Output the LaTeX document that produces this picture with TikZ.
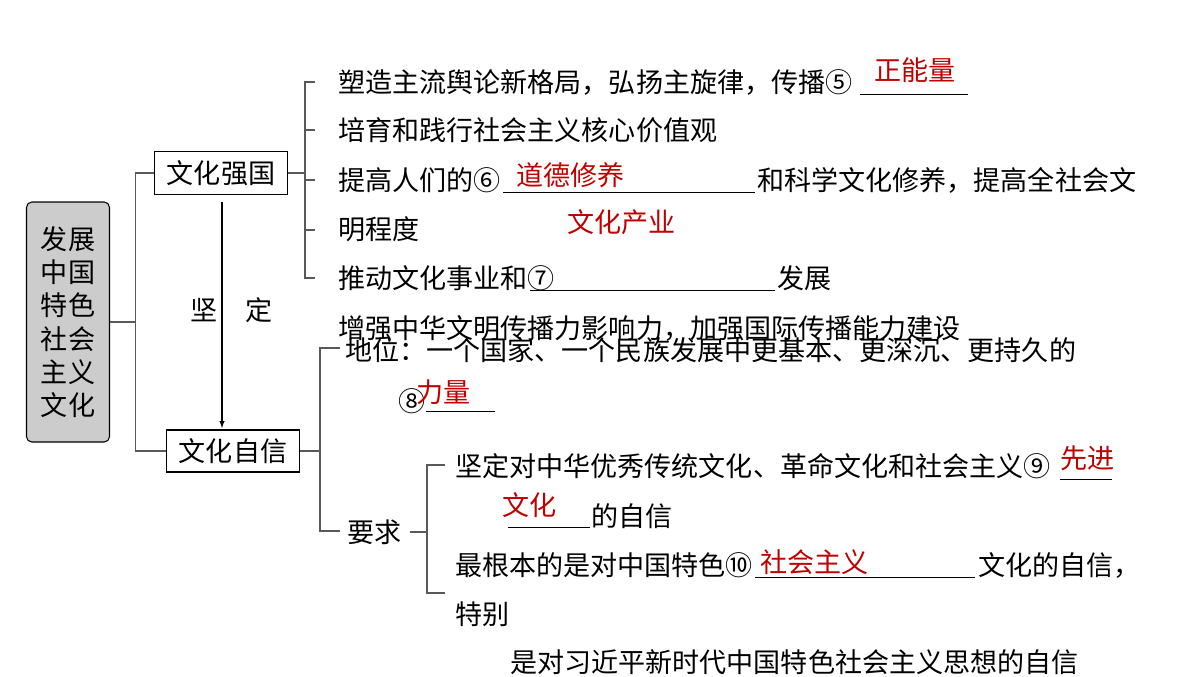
\documentclass[tikz,border=0pt]{standalone}
\usepackage{fontspec}
\setmainfont{Noto Sans CJK SC}
\usetikzlibrary{positioning}
\begin{document}
\begin{tikzpicture}[x=0.75pt,y=-0.75pt,
        txt/.style={anchor=west, inner sep=0pt, font=\fontsize{20.3pt}{22pt}\selectfont},
        ans/.style={anchor=west, inner sep=0pt, text=red!75!black, font=\fontsize{20.3pt}{22pt}\selectfont},
        topic/.style={rectangle, draw, thick, inner sep=0pt, font=\fontsize{20.3pt}{22pt}\selectfont},
        line/.style={gray!70!black, thick},
        arrow/.style={->, thick, >=latex}
    ]
        \useasboundingbox (0,0) rectangle (1200,676);
        % Root
        \node[draw, thick, rounded corners=4pt, fill=gray!40, minimum width=83*0.75pt, minimum height=240*0.75pt,
              align=center, font=\fontsize{20.3pt}{25pt}\selectfont] (root) at (68,322) {发展\\中国\\特色\\社会\\主义\\文化};
        
        % Main branches
        \node[topic, minimum width=133*0.75pt, minimum height=43*0.75pt] (qiang) at (221,173) {文化强国};
        \node[topic, minimum width=133*0.75pt, minimum height=42*0.75pt] (zixin) at (233,451) {文化自信};
        \draw[line] (root.east) -- ++(25,0) coordinate (r1);
        \draw[line] (qiang.west) -| (r1) |- (zixin.west);
        \draw[arrow] (222,202) -- (222,428);
        \node[txt] (jian) at (190,310) {坚};
        \node[txt] (ding) at (245,310) {定};
        
        % 文化强国 items
        \draw[line] (qiang.east) -- (305,173);
        \draw[line] (315,82) -| (305,278) -- (315,278);
        \foreach \y in {130,180,230} \draw[line] (305,\y) -- (315,\y);
        \node[txt] (q1) at (338,82) {塑造主流舆论新格局，弘扬主旋律，传播⑤};
        \draw (860,94) -- (968,94);
        \node[ans] (a5) at (874,70) {正能量};
        \node[txt] (q2) at (338,130) {培育和践行社会主义核心价值观};
        \node[txt] (q3) at (338,180) {提高人们的⑥};
        \draw (503,192) -- (755,192);
        \node[ans] (a6) at (516,175) {道德修养};
        \node[txt] (q3b) at (757,180) {和科学文化修养，提高全社会文};
        \node[txt] (q4) at (338,229) {明程度};
        \node[ans] (a7) at (567,222) {文化产业};
        \node[txt] (q5) at (338,278) {推动文化事业和⑦};
        \draw (530,290) -- (775,290);
        \node[txt] (q5b) at (777,278) {发展};
        \node[txt] (q6) at (338,328) {增强中华文明传播力影响力，加强国际传播能力建设};
        
        % 文化自信 items
        \draw[line] (zixin.east) -- (320,451);
        \draw[line] (340,348) -| (320,531) -- (340,531);
        \node[txt] (z1) at (345,350) {地位：一个国家、一个民族发展中更基本、更深沉、更持久的};
        \node[txt] (z2) at (398,401) {⑧};
        \draw (426,411) -- (495,411);
        \node[ans] (a8) at (416,392) {力量};
        \node[txt] (yq) at (347,532) {要求};
        \draw[line] (yq.east) ++(8,0) -- (427,532);
        \draw[line] (445,465) -| (427,593) -- (445,593);
        \node[txt] (z3) at (455,466) {坚定对中华优秀传统文化、革命文化和社会主义⑨};
        \draw (1060,479) -- (1112,479);
        \node[ans] (a9) at (1060,458) {先进};
        \draw (508,527) -- (590,527);
        \node[ans] (a9b) at (502,505) {文化};
        \node[txt] (z3b) at (591,516) {的自信};
        \node[txt] (z4) at (455,565) {最根本的是对中国特色⑩};
        \draw (755,577) -- (975,577);
        \node[ans] (a10) at (760,562) {社会主义};
        \node[txt] (z4b) at (978,565) {文化的自信，};
        \node[txt] (z5) at (455,614) {特别};
        \node[txt] (z6) at (510,662) {是对习近平新时代中国特色社会主义思想的自信};
    \end{tikzpicture}
\end{document}
